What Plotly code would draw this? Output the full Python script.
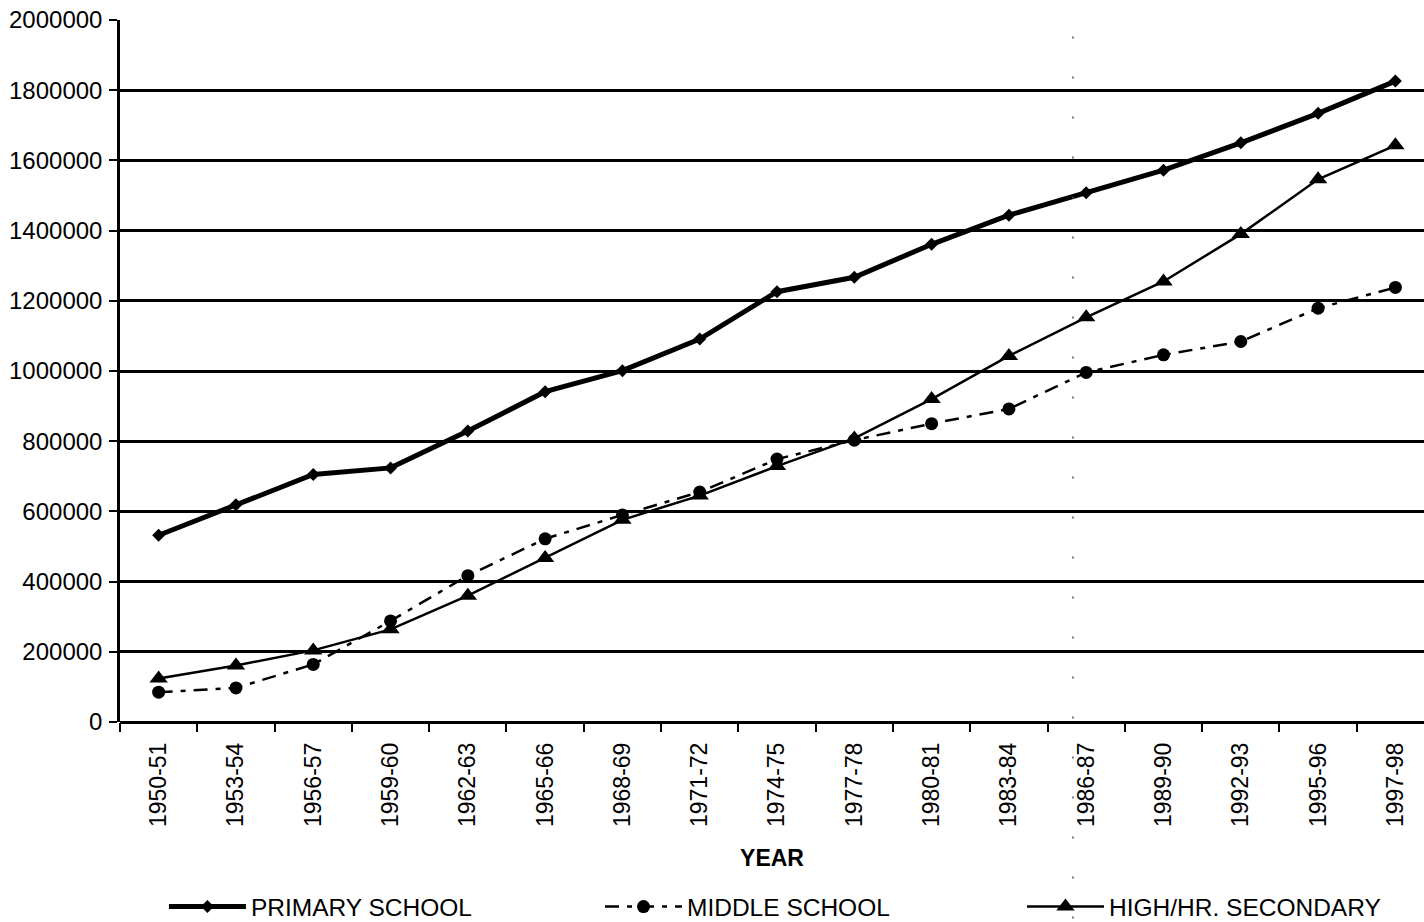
import plotly.graph_objects as go

years = ["1950-51", "1953-54", "1956-57", "1959-60", "1962-63", "1965-66", "1968-69",
         "1971-72", "1974-75", "1977-78", "1980-81", "1983-84", "1986-87", "1989-90",
         "1992-93", "1995-96", "1997-98"]
primary = [532000, 619000, 705000, 724000, 829000, 941000, 1001000, 1091000, 1226000,
           1267000, 1361000, 1444000, 1508000, 1572000, 1650000, 1734000, 1826000]
middle = [85000, 97000, 164000, 288000, 417000, 522000, 590000, 655000, 749000,
          803000, 850000, 892000, 996000, 1046000, 1084000, 1179000, 1238000]
high = [124000, 161000, 204000, 264000, 360000, 467000, 576000, 645000, 729000,
        808000, 920000, 1043000, 1153000, 1255000, 1390000, 1546000, 1643000]

FONT = "Liberation Sans, Arial, sans-serif"

fig = go.Figure()
fig.add_trace(go.Scatter(
    x=years, y=primary, name="PRIMARY SCHOOL", mode="lines+markers", legend="legend",
    line=dict(color="black", width=5),
    marker=dict(symbol="diamond", size=10, color="black")))
fig.add_trace(go.Scatter(
    x=years, y=middle, name="MIDDLE SCHOOL", mode="lines+markers", legend="legend2",
    line=dict(color="black", width=2.5, dash="14px,8px,5px,8px"),
    marker=dict(symbol="circle", size=13, color="black")))
fig.add_trace(go.Scatter(
    x=years, y=high, name="HIGH/HR. SECONDARY", mode="lines+markers", legend="legend3",
    line=dict(color="black", width=2.5),
    marker=dict(symbol="triangle-up", size=16, color="black")))

LEG_Y = -0.231
def leg(x):
    return dict(orientation="h", x=x, xanchor="left", y=LEG_Y, yanchor="top",
                font=dict(size=24.5), itemwidth=77, bgcolor="rgba(0,0,0,0)")

fig.update_layout(
    width=1424, height=922,
    margin=dict(l=120, r=0, t=20, b=200, autoexpand=False),
    paper_bgcolor="white", plot_bgcolor="white",
    font=dict(family=FONT, size=23, color="black"),
    showlegend=True,
    legend=leg(0.0337),
    legend2=leg(0.3681),
    legend3=leg(0.6917),
    xaxis=dict(
        type="category", range=[-0.5, 16.37], automargin=False,
        tickson="boundaries", ticks="outside", ticklen=9, tickwidth=2, tickcolor="black",
        tickangle=-90, showgrid=False, showline=False, zeroline=False,
        tickfont=dict(size=23), ticklabelstandoff=15,
        title=dict(text="<b>YEAR</b>", font=dict(size=23), standoff=23),
    ),
    yaxis=dict(
        range=[0, 2000000], dtick=200000, tickformat="d", automargin=False,
        showgrid=True, gridcolor="black", gridwidth=2.5,
        showline=True, linecolor="black", linewidth=2.5,
        zeroline=True, zerolinecolor="black", zerolinewidth=2.5,
        ticks="outside", ticklen=8, tickwidth=2, tickcolor="black",
        tickfont=dict(size=24), ticklabelstandoff=2,
    ),
    shapes=[dict(type="line", xref="paper", yref="paper", x0=0.7308, x1=0.7308,
                 y0=-0.28, y1=1.0, line=dict(color="#555555", width=1.5, dash="2px,38px"))],
)

fig.write_html("out.html", config={"displayModeBar": False},
               post_script="document.body.style.margin='0';document.body.style.overflow='hidden';")
